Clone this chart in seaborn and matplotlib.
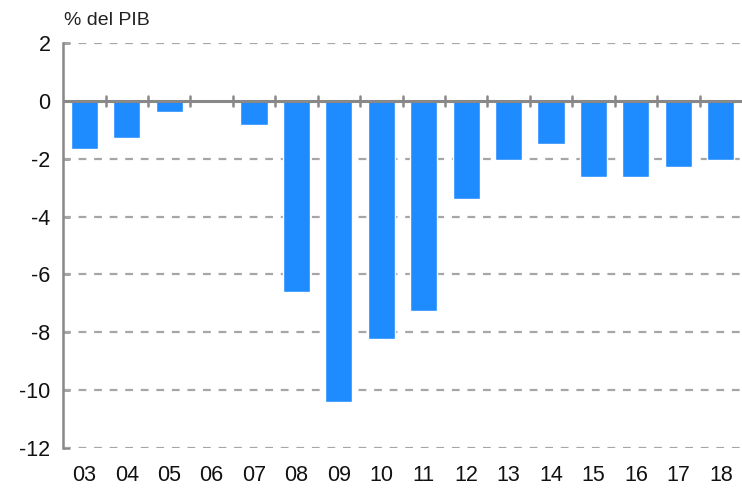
import matplotlib
matplotlib.use("Agg")
import matplotlib.pyplot as plt
import seaborn as sns
import pandas as pd
import numpy as np

years = ["03", "04", "05", "06", "07", "08", "09", "10", "11", "12", "13", "14", "15", "16", "17", "18"]
balance = [-1.65, -1.3, -0.4, 0.0, -0.85, -6.6, -10.4, -8.25, -7.25, -3.4, -2.05, -1.5, -2.65, -2.65, -2.3, -2.05]
y_ticks = [2, 0, -2, -4, -6, -8, -10, -12]

sns.set_theme(style="white")
plt.rcParams['font.family'] = ['Liberation Sans', 'DejaVu Sans']

df = pd.DataFrame({"year": years, "value": balance})

fig = plt.figure(figsize=(7.42, 4.88), dpi=100)
ax = fig.add_axes([0.085, 0.082, 0.915, 0.83])

sns.barplot(data=df, x="year", y="value", color="#1E8BFF", saturation=1,
            width=0.64, ax=ax, zorder=2)

ax.set_ylim(-12, 2)
ax.set_xlim(-0.5, len(years) - 0.5)
ax.set_yticks(y_ticks)
ax.set_yticklabels([str(t) for t in y_ticks], fontsize=15.5)
ax.set_xticks(range(len(years)))
ax.set_xticklabels(years, fontsize=15.5)
ax.set_xlabel("")
ax.set_ylabel("")

for t in y_ticks:
    if t != 0:
        ax.axhline(t, color="#A6A6A6", lw=1.6, ls=(0, (3.5, 3.5)), zorder=1)
ax.axhline(0, color="#888888", lw=2.2, zorder=3)

# boundary tick marks on zero line
for i in range(1, len(years)):
    ax.plot([i - 0.5, i - 0.5], [-0.17, 0.17], color="#888888", lw=1.8, zorder=3, clip_on=False)

for s in ["top", "right", "bottom"]:
    ax.spines[s].set_visible(False)
ax.spines["left"].set_color("#888888")
ax.spines["left"].set_linewidth(1.8)
ax.tick_params(axis="y", left=True, direction="in", length=5, width=1.8, color="#888888", pad=9, labelcolor="#111111")
ax.tick_params(axis="x", bottom=False, pad=6, labelcolor="#111111")

fig.text(0.086, 0.957, "% del PIB", fontsize=14, color="#222222", ha="left", va="center")

fig.savefig("out.png", dpi=100)
